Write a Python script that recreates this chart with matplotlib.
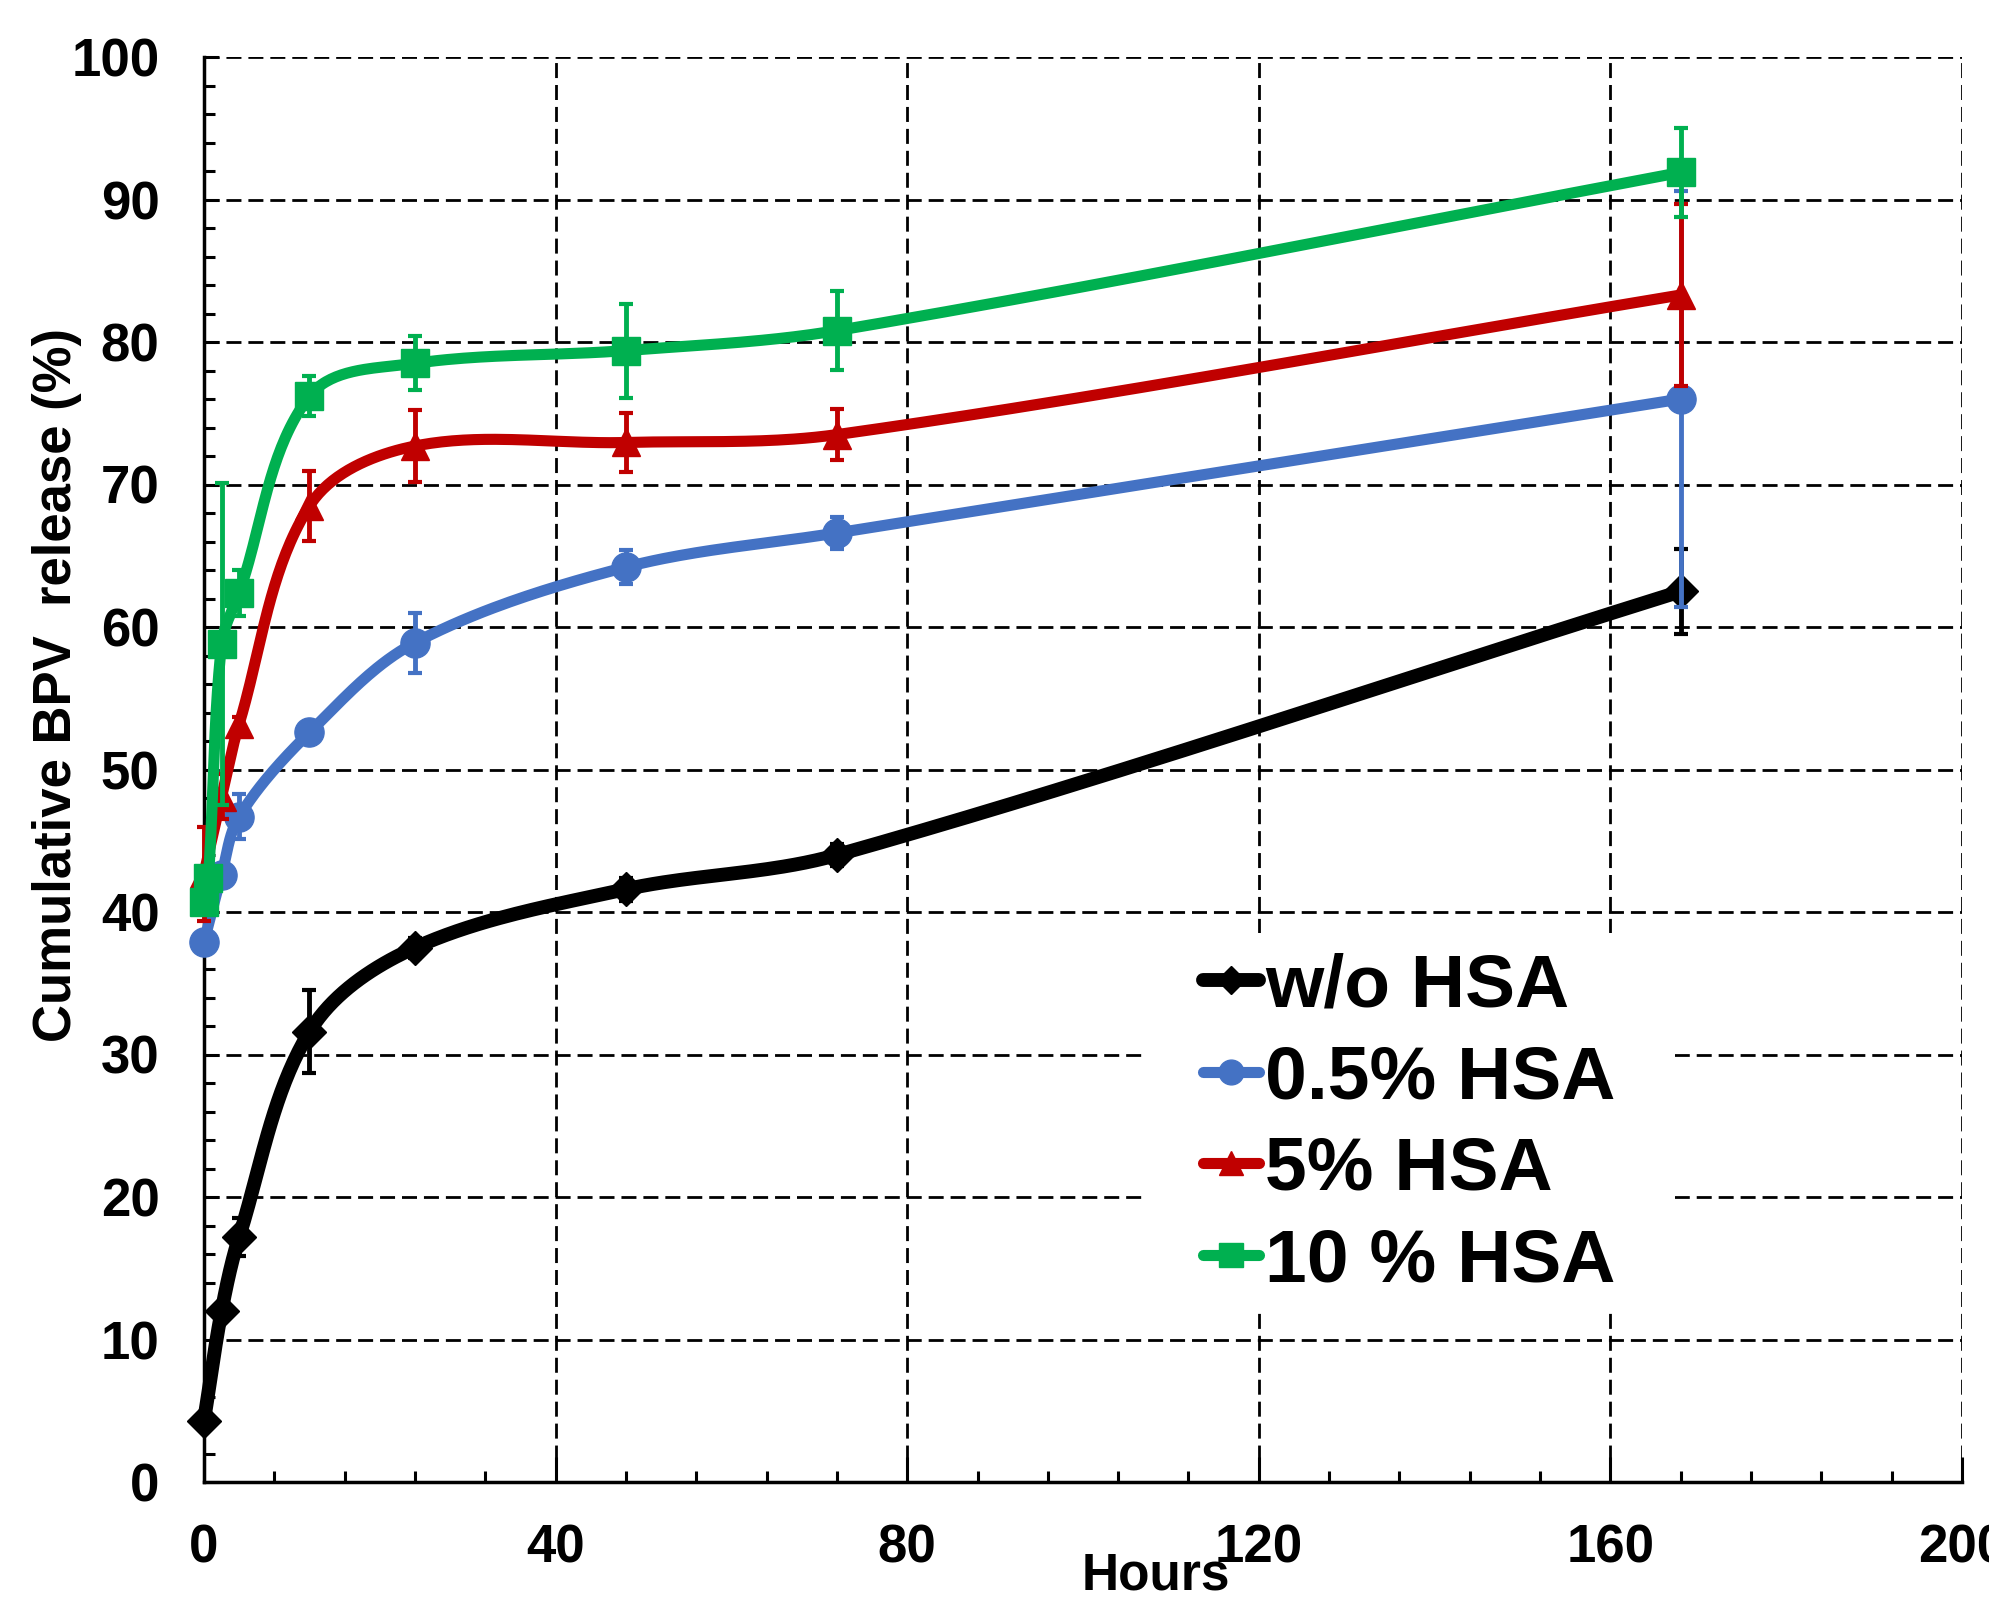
import numpy as np
import matplotlib
matplotlib.use("Agg")
import matplotlib.pyplot as plt
from matplotlib.ticker import MultipleLocator
from matplotlib.lines import Line2D
from matplotlib.patches import Rectangle

plt.rcParams['font.family'] = ['Liberation Sans', 'DejaVu Sans']
plt.rcParams['font.weight'] = 'bold'

# hours / cumulative release (%) / error
time_wo = [0, 2, 4, 12, 24, 48, 72, 168]
rel_wo = [4.3, 12.0, 17.2, 31.6, 37.5, 41.6, 44.0, 62.5]
err_wo = [0.3, 0.4, 1.35, 2.9, 0.7, 0.8, 0.8, 3.0]

time_05 = [0, 2, 4, 12, 24, 48, 72, 168]
rel_05 = [37.9, 42.6, 46.7, 52.6, 58.9, 64.2, 66.6, 76.0]
err_05 = [0.4, 0.5, 1.55, 0.5, 2.1, 1.2, 1.15, 14.6]

time_5 = [0, 2, 4, 12, 24, 48, 72, 168]
rel_5 = [42.7, 48.1, 53.2, 68.5, 72.7, 72.95, 73.5, 83.3]
err_5 = [3.3, 1.6, 0.5, 2.45, 2.5, 2.1, 1.8, 6.4]

time_10 = [0, 0.5, 2, 4, 12, 24, 48, 72, 168]
rel_10 = [40.7, 42.4, 58.8, 62.4, 76.2, 78.5, 79.4, 80.8, 91.9]
err_10 = [0.4, 0.8, 11.3, 1.6, 1.4, 1.9, 3.3, 2.75, 3.15]

labels = ["w/o HSA", "0.5% HSA", "5% HSA", "10 % HSA"]
colors = ["#000000", "#4472C4", "#C00000", "#00B050"]
markers = ["D", "o", "^", "s"]


def smooth(xs, ys, n=40):
    # smoothed line like excel: bezier per segment, tangent from neighbours,
    # handle length a third of the segment (done in pixel space)
    sx, sy = 8.79, 14.25
    P = np.column_stack([np.array(xs) * sx, np.array(ys) * sy])
    out = []
    t = np.linspace(0, 1, n)[:, None]
    for i in range(len(P) - 1):
        p0 = P[max(i - 1, 0)]
        p1 = P[i]
        p2 = P[i + 1]
        p3 = P[min(i + 2, len(P) - 1)]
        L = np.linalg.norm(p2 - p1)
        u1 = (p2 - p0) / np.linalg.norm(p2 - p0)
        u2 = (p3 - p1) / np.linalg.norm(p3 - p1)
        c1 = p1 + u1 * L / 3
        c2 = p2 - u2 * L / 3
        seg = (1 - t) ** 3 * p1 + 3 * (1 - t) ** 2 * t * c1 + 3 * (1 - t) * t ** 2 * c2 + t ** 3 * p2
        out.append(seg if i == 0 else seg[1:])
    Q = np.vstack(out)
    return Q[:, 0] / sx, Q[:, 1] / sy


fig = plt.figure(figsize=(19.9, 16), dpi=100)
ax = fig.add_axes([204 / 1990, 1 - 1482 / 1600, 1758 / 1990, 1425 / 1600])

series = [(time_wo, rel_wo, err_wo), (time_05, rel_05, err_05),
          (time_5, rel_5, err_5), (time_10, rel_10, err_10)]
lws = [10, 8, 8, 8]
msz = [17, 21, 20, 20.5]

handles = []
for k, (t, v, e) in enumerate(series):
    xs, ys = smooth(t, v)
    z = 3 + k
    ax.plot(xs, ys, color=colors[k], lw=lws[k], zorder=z, solid_capstyle='round', clip_on=False)
    ax.errorbar(t, v, yerr=e, fmt=markers[k], ms=msz[k], color=colors[k],
                elinewidth=3.5, capsize=5, capthick=3, zorder=z, clip_on=False)
    handles.append(Line2D([], [], color=colors[k], lw=lws[k], marker=markers[k],
                          ms=msz[k] * 0.85, solid_capstyle='round'))

ax.set_xlim(0, 200)
ax.set_ylim(0, 100)
ax.set_xticks(range(0, 201, 40))
ax.set_yticks(range(0, 101, 10))
ax.xaxis.set_minor_locator(MultipleLocator(8))
ax.yaxis.set_minor_locator(MultipleLocator(2))
ax.tick_params(axis='both', which='both', direction='in', width=2.2, labelsize=38)
ax.tick_params(axis='x', which='major', length=18, pad=30)
ax.tick_params(axis='y', which='major', length=11, pad=32)
ax.tick_params(axis='both', which='minor', length=8)
for lab in ax.get_xticklabels() + ax.get_yticklabels():
    lab.set_fontweight('bold')

ax.spines['top'].set_visible(False)
ax.spines['right'].set_visible(False)
ax.spines['left'].set_linewidth(2.5)
ax.spines['bottom'].set_linewidth(2.5)
ax.grid(True, which='major', color='black', linestyle=(0, (5.4, 2.5)), linewidth=2)

# white area behind legend
ax.add_patch(Rectangle((0.537, 0.123), 0.30, 0.262, transform=ax.transAxes,
                       facecolor='white', edgecolor='none', zorder=1.8))
leg = ax.legend(handles, labels, loc='center left', bbox_to_anchor=(0.568, 0.251),
                frameon=False, borderpad=0, borderaxespad=0, handlelength=0.75,
                handletextpad=0.08, labelspacing=0.3,
                prop={'family': 'Liberation Sans', 'weight': 'bold', 'size': 54})
leg.set_zorder(10)

fig.text(57 / 1990, 1 - 685 / 1600, "Cumulative BPV  release (%)", rotation=90,
         ha='center', va='center', fontsize=38, fontweight='bold')
fig.text(1156 / 1990, 1 - 1576 / 1600, "Hours", ha='center', va='center',
         fontsize=37, fontweight='bold')

plt.savefig("out.png", dpi=100)
